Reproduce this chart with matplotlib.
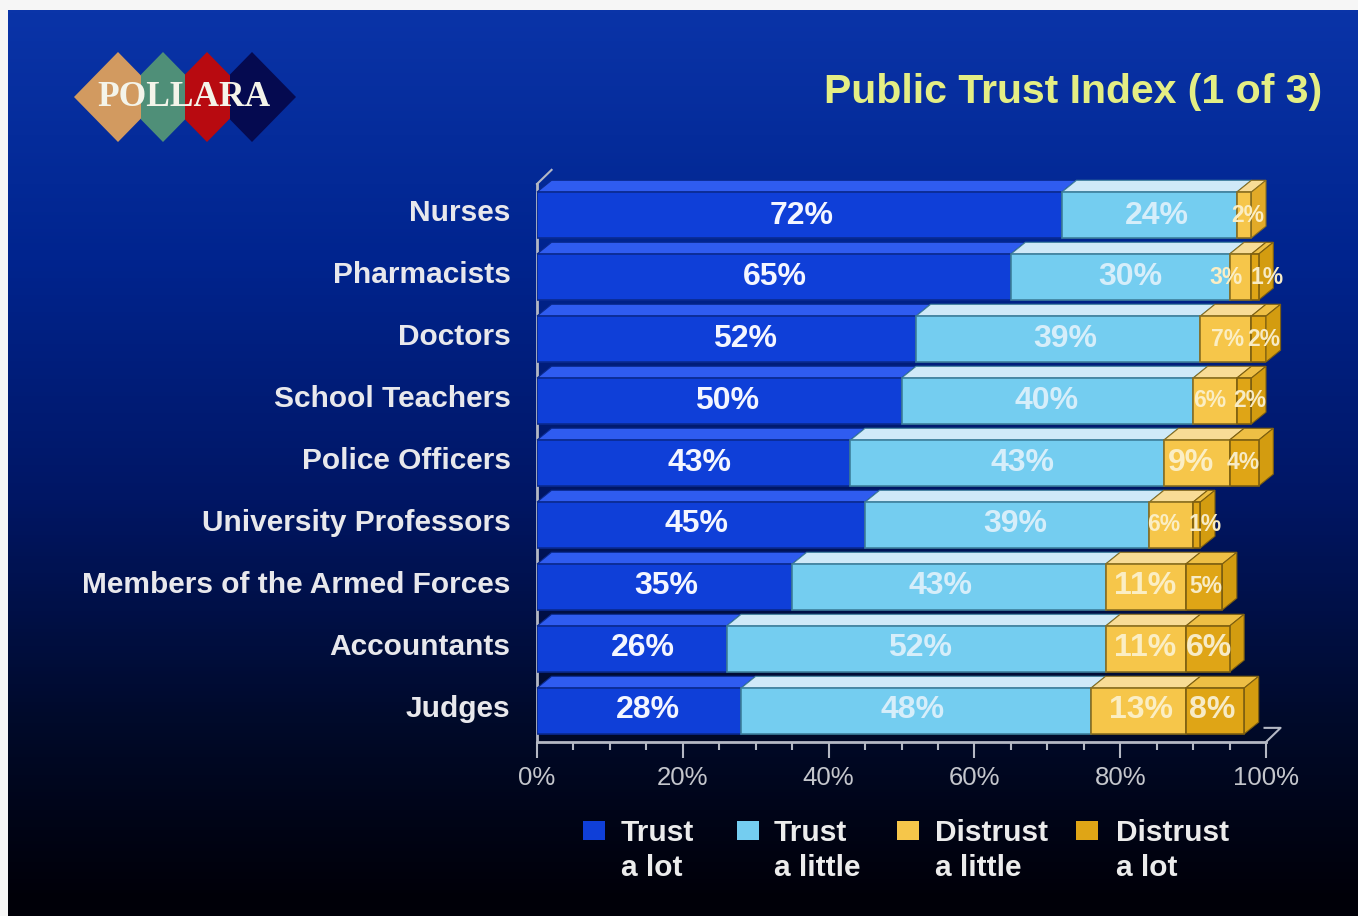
import numpy as np
import matplotlib
matplotlib.use("Agg")
import matplotlib.pyplot as plt
from matplotlib.colors import LinearSegmentedColormap
from matplotlib.patches import Polygon, Rectangle

##DATA
jobs = ['Nurses', 'Pharmacists', 'Doctors', 'School Teachers', 'Police Officers',
        'University Professors', 'Members of the Armed Forces', 'Accountants', 'Judges']
trust_lot = [72, 65, 52, 50, 43, 45, 35, 26, 28]
trust_little = [24, 30, 39, 40, 43, 39, 43, 52, 48]
distrust_little = [2, 3, 7, 6, 9, 6, 11, 11, 13]
distrust_lot = [0, 1, 2, 2, 4, 1, 5, 6, 8]
series = [trust_lot, trust_little, distrust_little, distrust_lot]
legend_labels = ['Trust\na lot', 'Trust\na little', 'Distrust\na little', 'Distrust\na lot']
xticks = [0, 20, 40, 60, 80, 100]

##STYLE
W, H = 1358, 916
front = ['#0f3fd8', '#74cdf0', '#f6c64a', '#dfa516']
top = ['#2f5cf0', '#cfe9f8', '#f8dc96', '#eebf45']
side = ['#0a2ca0', '#4fa8cc', '#e2aa28', '#d39c10']
edges = ['#0a2a90', '#3d7f9c', '#8a6f20', '#7d5f10']
text_col = ['#f4f6ff', '#d6eefa', '#fbeec4', '#f7ebc6']
DX = 2.0    # depth of the bars, in percent
DY = 0.19   # depth of the bars, in rows
BAR_H = 0.74
PX = 100 / (1266 - 537)   # percent per pixel
# sideways shift of the value labels off the segment centre, in pixels
label_shift = [[2, 1, 18, 8, 6, -5, 2, 11, 9],
               [8, 10, 7, -1, 15, 8, -8, 4, -4],
               [4, -14, 2, -5, -6, -8, -1, -1, 3],
               [0, 12, 5, 6, -1, 8, 2, 1, -3]]

plt.rcParams['font.family'] = ['Liberation Sans', 'DejaVu Sans']
fig = plt.figure(figsize=(W / 100, H / 100), dpi=100, facecolor='#f6f6f6')

##BACKGROUND (pixel coords)
bg = fig.add_axes([0, 0, 1, 1])
bg.set_xlim(0, W)
bg.set_ylim(H, 0)
bg.axis('off')
cmap = LinearSegmentedColormap.from_list(
    'back', [(0, '#0a34a8'), (0.28, '#00248e'), (0.55, '#001664'), (0.8, '#000a2a'), (1, '#000008')])
bg.imshow(np.linspace(0, 1, 256).reshape(-1, 1), cmap=cmap, aspect='auto', extent=[8, W, 900, 10])
bg.set_xlim(0, W)
bg.set_ylim(H, 0)
bg.add_patch(Rectangle((8, 900), W - 8, 16, color='#000008', lw=0))

# logo, neighbours meet on a vertical line
logo_cuts = [60, 140.5, 185, 229.5, 310]
for n, (cx, col) in enumerate(zip([118, 163, 207, 252], ['#d29a60', '#4f8f78', '#b80a10', '#050a50'])):
    d = Polygon([(cx - 44, 97), (cx, 52), (cx + 44, 97), (cx, 142)], closed=True, color=col, lw=0)
    bg.add_patch(d)
    d.set_clip_path(Rectangle((logo_cuts[n], 40), logo_cuts[n + 1] - logo_cuts[n], 110, transform=bg.transData))
bg.text(184, 97, 'POLLARA', family='Liberation Serif', fontsize=25.5, fontweight='bold', color='#f4f4ea',
        ha='center', va='center')

bg.text(1322, 92, 'Public Trust Index (1 of 3)', fontsize=29.5, fontweight='bold',
        color='#e4ee84', ha='right', va='center')

# legend
for x0, xt, col, lab in zip([583, 737, 897, 1076], [621, 774, 935, 1116], front, legend_labels):
    bg.add_patch(Rectangle((x0, 821), 22, 19, color=col, lw=0))
    l1, l2 = lab.split('\n')
    bg.text(xt, 833, l1, fontsize=21.5, fontweight='bold', color='#ececec', ha='left', va='center')
    bg.text(xt, 868, l2, fontsize=21.5, fontweight='bold', color='#ececec', ha='left', va='center')

##PLOT
ax = fig.add_axes([537 / W, 1 - 742 / H, (1266 - 537) / W, (742 - 184) / H])
ax.patch.set_alpha(0)
ax.set_xlim(0, 100)
ax.set_ylim(len(jobs) - 0.5, -0.5)

for i in range(len(jobs)):
    left = 0
    y0 = i - BAR_H / 2
    total = sum(s[i] for s in series)
    for k, s in enumerate(series):
        v = s[i]
        if v == 0:
            continue
        ax.add_patch(Polygon([(left, y0), (left + v, y0), (left + v + DX, y0 - DY), (left + DX, y0 - DY)],
                             closed=True, fc=top[k], ec=edges[k], lw=0.8, zorder=3, clip_on=False))
        ax.barh(i, v, left=left, height=BAR_H, color=front[k], edgecolor=edges[k], lw=1.2, zorder=4)
        if left + v == total:
            ax.add_patch(Polygon([(left + v, y0), (left + v + DX, y0 - DY),
                                  (left + v + DX, y0 + BAR_H - DY), (left + v, y0 + BAR_H)],
                                 closed=True, fc=side[k], ec=edges[k], lw=0.8, zorder=3.5, clip_on=False))
        big = v >= 8 or (k == 3 and v == 6)
        ax.text(left + v / 2 + label_shift[k][i] * PX, i + 0.01 - 0.002 * i * 2, f'{v}%',
                fontsize=23 if big else 16.5, fontweight='bold',
                color=text_col[k], ha='center', va='center', zorder=6, clip_on=False)
        left += v

for sp in ['top', 'right']:
    ax.spines[sp].set_visible(False)
ax.spines['bottom'].set_color('#b4b8c4')
ax.spines['bottom'].set_linewidth(2)
ax.spines['left'].set_color('#b4b8c4')
ax.spines['left'].set_linewidth(2)

ax.set_xticks(xticks)
ax.set_xticklabels([f'{t}%' for t in xticks])
ax.set_xticks(np.arange(0, 101, 5), minor=True)
ax.tick_params(axis='x', which='major', length=11.5, width=1.5, color='#b4b8c4',
               labelcolor='#c4c6cc', labelsize=18.5, pad=6)
ax.tick_params(axis='x', which='minor', length=5.5, width=1.5, color='#b4b8c4')

ax.set_yticks(np.arange(len(jobs)) - 0.08)
ax.set_yticklabels(jobs, fontweight='bold', fontsize=21.5, color='#e8e8ec')
ax.tick_params(axis='y', length=0, pad=19)

# corners of the 3d floor and wall
ax.plot([0, DX], [-0.5, -0.5 - DY * 1.2], color='#b4b8c4', lw=1.5, clip_on=False, zorder=2)
ax.plot([100, 100 + DX, 100 - 0.2], [8.5, 8.5 - DY * 1.2, 8.5 - DY * 1.2], color='#b4b8c4', lw=1.5,
        clip_on=False, zorder=2)

fig.savefig('out.png', dpi=100, facecolor=fig.get_facecolor())
